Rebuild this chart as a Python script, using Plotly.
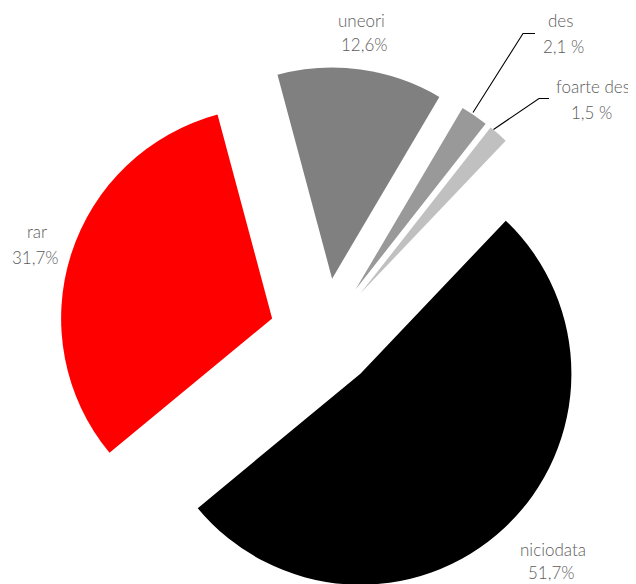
import plotly.graph_objects as go

# the page body adds an 8px margin, so the figure is laid out 8px up/left
OFF = 8
W, H = 628, 600

categories = ["uneori", "des", "foarte des", "niciodata", "rar"]
values = [12.6, 2.1, 1.5, 51.7, 31.7]
pct_labels = ["12,6%", "2,1 %", "1,5 %", "51,7%", "31,7%"]
colors = ["#808080", "#999999", "#c0c0c0", "#000000", "#ff0000"]
pulls = [0.27, 0.26, 0.26, 0.25, 0.26]

# pie box (reference pixels): centre and half-size
cx, cy, half = 324.4, 335.1, 268.0

def px(x):
    return (x - OFF) / W

def py(y):
    return 1 - (y - OFF) / H

fig = go.Figure(go.Pie(
    labels=categories,
    values=values,
    sort=False,
    direction="clockwise",
    rotation=-15,
    pull=pulls,
    marker=dict(colors=colors, line=dict(width=0)),
    textinfo="none",
    showlegend=False,
    domain=dict(x=[px(cx - half), px(cx + half)], y=[py(cy + half), py(cy - half)]),
))

# label positions (name centre, percent centre) in reference pixels
label_pos = {
    "uneori": ((361, 20), (364, 45)),
    "des": ((560, 20), (563, 46)),
    "foarte des": ((593, 87), (591, 112)),
    "niciodata": ((553, 549), (551, 572)),
    "rar": ((37, 232), (36, 257)),
}
font = dict(family="Lato", size=17, color="#5c5c5c", weight=300)
annotations = []
for name, pct in zip(categories, pct_labels):
    (nx, ny), (qx, qy) = label_pos[name]
    annotations.append(dict(x=px(nx), y=py(ny), xref="paper", yref="paper", text=name,
                            showarrow=False, font=font, xanchor="center", yanchor="middle"))
    annotations.append(dict(x=px(qx), y=py(qy), xref="paper", yref="paper", text=pct,
                            showarrow=False, font=font, xanchor="center", yanchor="middle"))

shapes = []
for pts in [[(473, 112.5), (523, 33.5), (535, 33.5)], [(493.5, 129.5), (539, 98.5), (549, 98.5)]]:
    path = "M " + " L ".join(f"{px(x)},{py(y)}" for x, y in pts)
    shapes.append(dict(type="path", path=path, xref="paper", yref="paper",
                       line=dict(color="#000000", width=1.1)))

fig.update_layout(
    width=W, height=H,
    margin=dict(l=0, r=0, t=0, b=0),
    paper_bgcolor="white", plot_bgcolor="white",
    annotations=annotations, shapes=shapes,
)

fig.write_html("out.html")
